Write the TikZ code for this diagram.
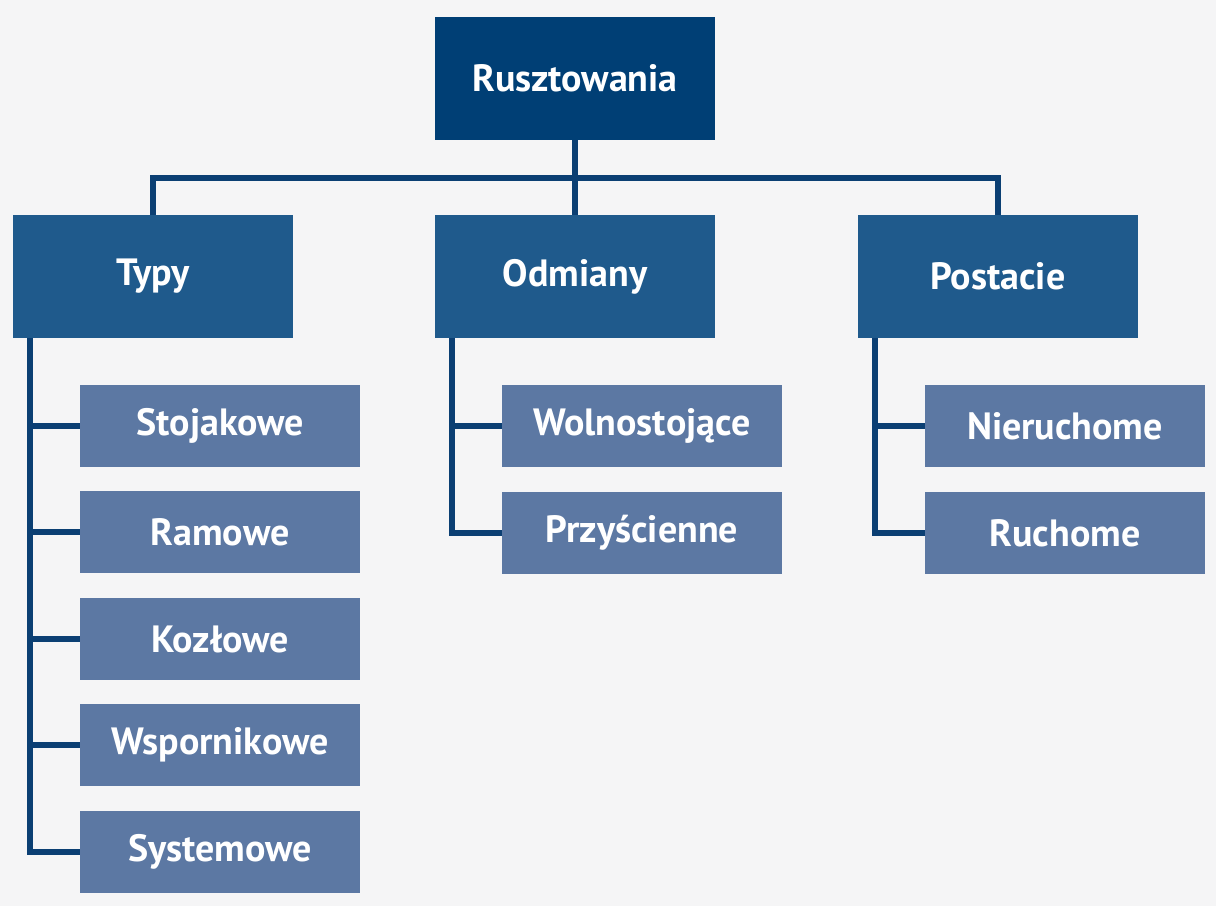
\documentclass[tikz,border=0pt]{standalone}
\usepackage{fontspec}
\setmainfont{PT Sans}
\usetikzlibrary{positioning}
\definecolor{rootblue}{HTML}{003F75}
\definecolor{midblue}{HTML}{1F5A8C}
\definecolor{leafblue}{HTML}{5C78A3}
\definecolor{linkblue}{HTML}{0B3F73}
\definecolor{bgray}{HTML}{F5F5F6}
\tikzset{
    box/.style={rectangle, draw=none, text=white, inner sep=0pt,
        font=\fontsize{38}{40}\selectfont\bfseries},
    root/.style={box, fill=rootblue, minimum width=280pt, minimum height=123pt},
    group/.style={box, fill=midblue, minimum width=280pt, minimum height=123pt},
    leaf/.style={box, fill=leafblue, minimum width=280pt, minimum height=82pt},
    link/.style={draw=linkblue, line width=6pt}
}

\begin{document}
\begin{tikzpicture}[x=1pt, y=-1pt]
  \fill[bgray] (0,0) rectangle (1216,906);
  \useasboundingbox (0,0) rectangle (1216,906);

  \node (rus) [root] at (575, 78.5) {Rusztowania};
  \node (typy) [group] at (153, 276.5) {Typy};
  \node (odm) [group] at (575, 276.5) {Odmiany};
  \node (pos) [group] at (998, 276.5) {Postacie};

  \node (sto) [leaf] at (220, 426) {Stojakowe};
  \node (ram) [leaf] at (220, 532) {Ramowe};
  \node (koz) [leaf] at (220, 639) {Kozłowe};
  \node (wsp) [leaf] at (220, 745) {Wspornikowe};
  \node (sys) [leaf] at (220, 852) {Systemowe};

  \node (wol) [leaf] at (642, 426) {Wolnostojące};
  \node (prz) [leaf] at (642, 533) {Przyścienne};

  \node (nie) [leaf] at (1065, 426) {Nieruchome};
  \node (ruc) [leaf] at (1065, 533) {Ruchome};

  \coordinate (bus) at (575, 178);

  \draw[link] (rus) -- (bus);
  \draw[link] (typy.north) |- (bus) -| (pos.north);
  \draw[link] (bus) -- (odm.north);

  \foreach \n in {sto, ram, koz, wsp}
    \draw[link] (\n.west) -- ++(-50,0);
  \draw[link] (typy.south west) ++(17,0) |- (sys.west);
  \draw[link] (wol.west) -- ++(-50,0);
  \draw[link] (odm.south west) ++(17,0) |- (prz.west);
  \draw[link] (nie.west) -- ++(-50,0);
  \draw[link] (pos.south west) ++(17,0) |- (ruc.west);
\end{tikzpicture}
\end{document}
